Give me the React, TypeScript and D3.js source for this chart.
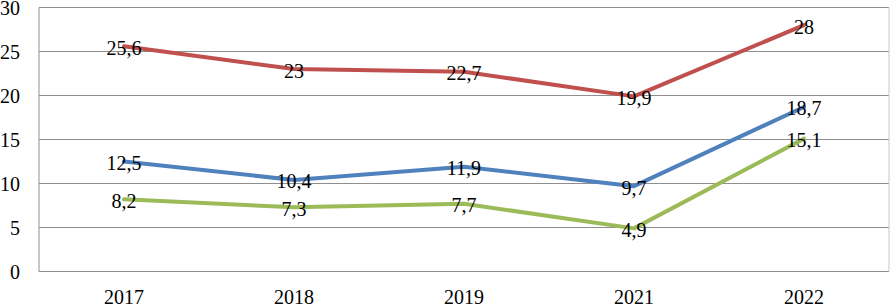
import React from "react";
import * as d3 from "d3";

const categories = ["2017", "2018", "2019", "2021", "2022"];
const redValues = [25.6, 23, 22.7, 19.9, 28];
const blueValues = [12.5, 10.4, 11.9, 9.7, 18.7];
const greenValues = [8.2, 7.3, 7.7, 4.9, 15.1];
const yTicks = [0, 5, 10, 15, 20, 25, 30];

const series = [
  { name: "red", values: redValues, color: "#C0504D" },
  { name: "blue", values: blueValues, color: "#4F81BD" },
  { name: "green", values: greenValues, color: "#9BBB59" },
];

const W = 892;
const H = 305;
const left = 39;
const right = 889;
const top = 7.5;
const bottom = 271.5;
const font = "'Liberation Serif', 'Times New Roman', serif";

export default function App() {
  const x = d3.scaleBand<string>().domain(categories).range([left, right]);
  const y = d3.scaleLinear().domain([0, 30]).range([bottom, top]);
  const cx = (c: string) => (x(c) as number) + x.bandwidth() / 2;
  const line = d3
    .line<number>()
    .x((_, i) => cx(categories[i]))
    .y((d) => y(d));
  const fmt = (v: number) => String(v).replace(".", ",");

  return (
    <svg
      width={W}
      height={H}
      style={{ position: "absolute", left: 0, top: 0, background: "#fff" }}
      fontFamily={font}
    >
      <rect x={0} y={0} width={W} height={H} fill="#fff" />
      {yTicks.map((t) => (
        <g key={t}>
          <line x1={left} x2={right} y1={y(t)} y2={y(t)} stroke="#8f8f8f" strokeWidth={1} />
          <text x={20} y={y(t)} dy="0.35em" textAnchor="end" fontSize={20} fill="#000">
            {t}
          </text>
        </g>
      ))}
      <line x1={left} x2={left} y1={top} y2={bottom} stroke="#8f8f8f" strokeWidth={1} />
      <line x1={right} x2={right} y1={top} y2={bottom} stroke="#c8c8c8" strokeWidth={1} />
      {categories.map((c) => (
        <text key={c} x={cx(c)} y={304} textAnchor="middle" fontSize={20} fill="#000">
          {c}
        </text>
      ))}
      {series.map((s) => (
        <path
          key={s.name}
          d={line(s.values) || ""}
          fill="none"
          stroke={s.color}
          strokeWidth={4}
          strokeLinejoin="round"
          strokeLinecap="round"
        />
      ))}
      {series.map((s) =>
        s.values.map((v, i) => (
          <text
            key={s.name + i}
            x={cx(categories[i])}
            y={y(v)}
            dy="0.42em"
            textAnchor="middle"
            fontSize={20}
            fill="#000"
          >
            {fmt(v)}
          </text>
        ))
      )}
    </svg>
  );
}
